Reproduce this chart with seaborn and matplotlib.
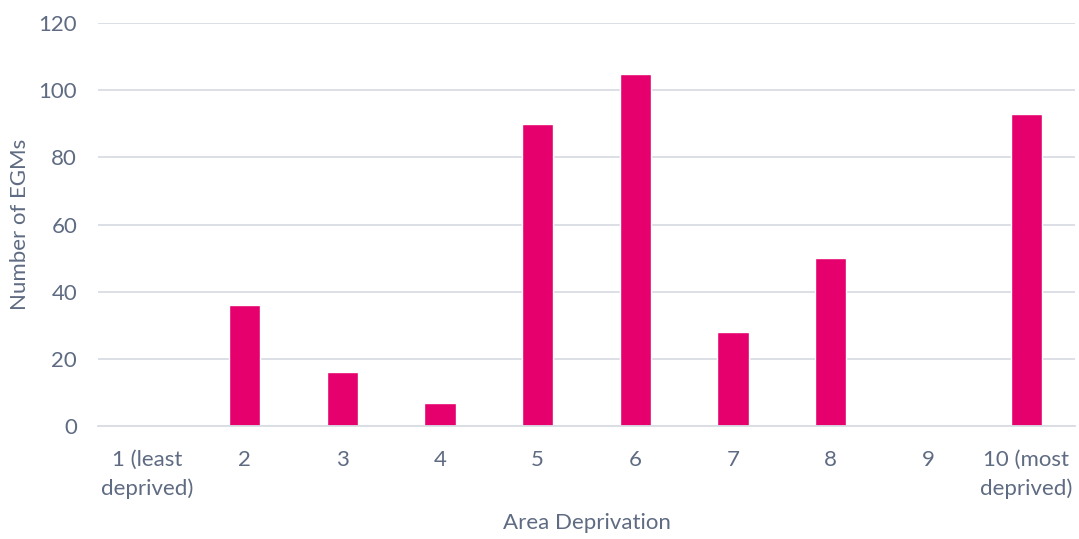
import matplotlib
matplotlib.use("Agg")
import matplotlib.pyplot as plt
import seaborn as sns
import pandas as pd

categories = ["1 (least\ndeprived)", "2", "3", "4", "5", "6", "7", "8", "9", "10 (most\ndeprived)"]
values = [0, 36, 16, 7, 90, 105, 28, 50, 0, 93]

sns.set_theme(style="white")
plt.rcParams['font.family'] = ['Lato', 'DejaVu Sans']

text_color = "#5E6B82"
grid_color = "#D9DCE3"
bar_color = "#E6006E"

df = pd.DataFrame({"cat": categories, "val": values})

fig = plt.figure(figsize=(10.79, 5.39), dpi=100)
ax = fig.add_axes([0.0908, 0.2096, 0.9055, 0.7474])
sns.barplot(data=df, x="cat", y="val", color=bar_color, width=0.32, ax=ax, saturation=1)

ax.set_ylim(0, 120)
ax.set_yticks(range(0, 121, 20))
ax.set_xlim(-0.5, 9.5)
ax.yaxis.grid(True, color=grid_color, linewidth=1.3)
ax.set_axisbelow(True)
for s in ["top", "right", "left"]:
    ax.spines[s].set_visible(False)
ax.spines["bottom"].set_color(grid_color)
ax.spines["bottom"].set_linewidth(1.3)
ax.tick_params(axis="both", length=0, labelsize=16, colors=text_color)
ax.tick_params(axis="x", pad=17)
ax.tick_params(axis="y", pad=15)
for lbl in ax.get_xticklabels():
    lbl.set_linespacing(1.5)
ax.set_xlabel("Area Deprivation", fontsize=16, color=text_color)
ax.set_ylabel("Number of EGMs", fontsize=16, color=text_color)
ax.xaxis.label.set_va("center")
ax.yaxis.label.set_va("center")
ax.xaxis.set_label_coords(0.5, -97 / 403)
ax.yaxis.set_label_coords(-78 / 977, 0.5)

fig.savefig("out.png", dpi=100)
